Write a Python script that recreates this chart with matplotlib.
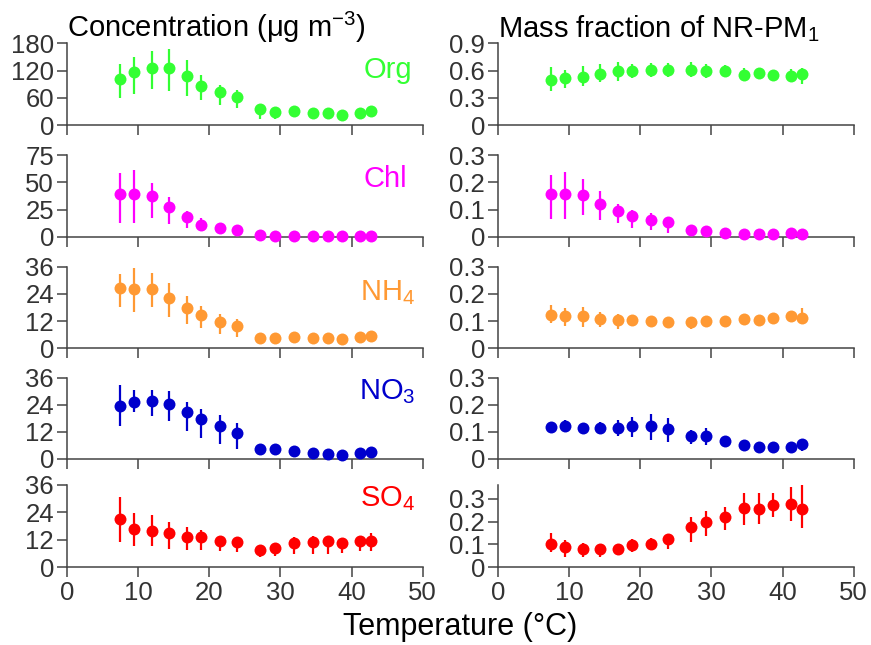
import matplotlib
matplotlib.use("Agg")
import matplotlib.pyplot as plt
import numpy as np

plt.rcParams['font.family'] = ['Liberation Sans', 'DejaVu Sans']
plt.rcParams['mathtext.fontset'] = 'custom'
plt.rcParams['mathtext.rm'] = 'Liberation Sans'
plt.rcParams['mathtext.it'] = 'Liberation Sans:italic'
plt.rcParams['mathtext.bf'] = 'Liberation Sans:bold'

# ---------------- data ----------------
temperature = [7.5, 9.5, 12.0, 14.3, 16.9, 18.9, 21.5, 23.9,
               27.2, 29.2, 31.9, 34.6, 36.7, 38.7, 41.2, 42.7]

species = ["Org", "Chl", "NH$_4$", "NO$_3$", "SO$_4$"]
colors = ["#33FF33", "#FF00FF", "#FF9933", "#0000CC", "#FF0000"]

# Concentration (ug m-3): mean, lower, upper
org_conc = [101.7, 117.8, 126.6, 126.6, 109.0, 85.6, 73.0, 62.0, 35.0, 30.0, 31.5, 26.3, 27.8, 23.4, 27.0, 30.7]
org_conc_lo = [60.7, 69.5, 79.0, 76.0, 65.0, 55.0, 45.0, 38.0, 14.6, 14.6, 17.6, 17.6, 18.0, 18.0, 19.0, 23.0]
org_conc_hi = [133.9, 150.0, 163.0, 166.8, 142.7, 111.0, 88.5, 76.8, 44.6, 39.5, 41.0, 35.0, 36.0, 29.0, 35.0, 37.0]

chl_conc = [39.0, 39.7, 37.2, 27.7, 18.1, 11.1, 7.7, 5.8, 1.5, 0.9, 0.6, 0.5, 0.5, 0.5, 0.6, 0.6]
chl_conc_lo = [12.3, 12.3, 17.5, 11.4, 7.7, 5.2, 4.0, 3.5, 0.5, 0.4, 0.3, 0.3, 0.3, 0.3, 0.3, 0.3]
chl_conc_hi = [58.4, 61.5, 49.2, 36.9, 23.7, 16.9, 11.4, 8.5, 2.5, 1.6, 1.0, 0.9, 0.9, 0.9, 1.0, 1.0]

nh4_conc = [26.4, 26.3, 26.3, 22.2, 17.8, 14.5, 11.6, 9.8, 4.7, 4.7, 4.8, 4.7, 4.6, 4.3, 5.1, 5.4]
nh4_conc_lo = [18.4, 16.0, 18.4, 14.0, 10.7, 9.1, 6.5, 5.1, 3.8, 3.8, 3.9, 3.8, 3.7, 3.5, 4.2, 4.5]
nh4_conc_hi = [33.0, 35.6, 33.3, 28.7, 23.1, 18.7, 15.1, 13.1, 5.5, 5.6, 5.7, 5.6, 5.5, 5.2, 6.0, 6.3]

no3_conc = [23.6, 25.2, 25.7, 24.2, 20.8, 17.6, 14.5, 11.4, 4.4, 4.4, 3.7, 2.7, 2.1, 1.8, 2.5, 3.1]
no3_conc_lo = [14.6, 20.8, 19.2, 16.8, 12.4, 9.4, 6.8, 4.3, 3.5, 3.2, 2.8, 1.9, 1.4, 1.2, 1.7, 2.2]
no3_conc_hi = [32.6, 30.5, 30.4, 30.1, 25.2, 22.1, 19.3, 15.8, 5.5, 6.0, 4.8, 3.6, 2.9, 2.5, 3.4, 4.1]

so4_conc = [21.1, 16.6, 16.0, 14.9, 13.4, 13.3, 11.7, 10.9, 7.7, 8.6, 10.5, 11.2, 11.4, 10.5, 11.5, 11.5]
so4_conc_lo = [11.2, 9.5, 9.5, 8.2, 7.6, 7.7, 7.3, 6.6, 4.4, 5.1, 5.7, 6.0, 5.7, 6.4, 7.1, 7.1]
so4_conc_hi = [30.6, 23.8, 22.9, 20.0, 17.8, 16.2, 13.7, 13.4, 9.8, 10.2, 13.1, 13.7, 13.7, 13.0, 13.7, 14.9]

# Mass fraction of NR-PM1: mean, lower, upper
org_frac = [0.494, 0.516, 0.531, 0.563, 0.600, 0.593, 0.607, 0.611, 0.611, 0.593, 0.596, 0.556, 0.574, 0.549, 0.538, 0.567]
org_frac_lo = [0.381, 0.413, 0.432, 0.476, 0.490, 0.523, 0.527, 0.534, 0.534, 0.523, 0.534, 0.498, 0.523, 0.498, 0.476, 0.450]
org_frac_hi = [0.644, 0.607, 0.651, 0.673, 0.695, 0.677, 0.680, 0.680, 0.695, 0.670, 0.659, 0.633, 0.633, 0.600, 0.615, 0.626]

chl_frac = [0.156, 0.156, 0.152, 0.120, 0.096, 0.076, 0.063, 0.053, 0.025, 0.021, 0.015, 0.009, 0.010, 0.009, 0.012, 0.011]
chl_frac_lo = [0.064, 0.064, 0.081, 0.061, 0.049, 0.032, 0.025, 0.015, 0.020, 0.016, 0.011, 0.006, 0.007, 0.006, 0.008, 0.008]
chl_frac_hi = [0.227, 0.237, 0.211, 0.168, 0.120, 0.098, 0.086, 0.074, 0.030, 0.026, 0.019, 0.012, 0.013, 0.012, 0.016, 0.014]

nh4_frac = [0.121, 0.118, 0.119, 0.109, 0.103, 0.105, 0.099, 0.098, 0.097, 0.100, 0.099, 0.107, 0.103, 0.113, 0.118, 0.110]
nh4_frac_lo = [0.092, 0.083, 0.080, 0.077, 0.070, 0.083, 0.083, 0.083, 0.072, 0.083, 0.080, 0.088, 0.086, 0.096, 0.098, 0.089]
nh4_frac_hi = [0.158, 0.149, 0.151, 0.133, 0.126, 0.122, 0.114, 0.109, 0.110, 0.116, 0.114, 0.122, 0.119, 0.125, 0.136, 0.147]

no3_frac = [0.118, 0.122, 0.113, 0.116, 0.113, 0.122, 0.122, 0.109, 0.084, 0.084, 0.065, 0.050, 0.043, 0.043, 0.043, 0.055]
no3_frac_lo = [0.103, 0.101, 0.095, 0.097, 0.086, 0.082, 0.070, 0.061, 0.057, 0.052, 0.045, 0.033, 0.025, 0.033, 0.025, 0.031]
no3_frac_hi = [0.134, 0.144, 0.134, 0.136, 0.144, 0.156, 0.166, 0.150, 0.107, 0.113, 0.082, 0.066, 0.058, 0.055, 0.059, 0.070]

so4_frac = [0.104, 0.087, 0.078, 0.078, 0.082, 0.099, 0.104, 0.124, 0.175, 0.196, 0.219, 0.259, 0.256, 0.274, 0.278, 0.253]
so4_frac_lo = [0.065, 0.047, 0.044, 0.047, 0.057, 0.066, 0.074, 0.081, 0.112, 0.135, 0.162, 0.185, 0.191, 0.219, 0.203, 0.174]
so4_frac_hi = [0.150, 0.121, 0.106, 0.103, 0.103, 0.124, 0.128, 0.143, 0.219, 0.246, 0.265, 0.326, 0.326, 0.326, 0.353, 0.359]

conc_ticks = [[0, 60, 120, 180], [0, 25, 50, 75], [0, 12, 24, 36], [0, 12, 24, 36], [0, 12, 24, 36]]
frac_ticks = [[0, 0.3, 0.6, 0.9], [0, 0.1, 0.2, 0.3], [0, 0.1, 0.2, 0.3], [0, 0.1, 0.2, 0.3], [0, 0.1, 0.2, 0.3]]
frac_ylim_top = [0.9, 0.3, 0.3, 0.3, 0.36]
x_ticks = [0, 10, 20, 30, 40, 50]

conc_sets = [(org_conc, org_conc_lo, org_conc_hi), (chl_conc, chl_conc_lo, chl_conc_hi),
             (nh4_conc, nh4_conc_lo, nh4_conc_hi), (no3_conc, no3_conc_lo, no3_conc_hi),
             (so4_conc, so4_conc_lo, so4_conc_hi)]
frac_sets = [(org_frac, org_frac_lo, org_frac_hi), (chl_frac, chl_frac_lo, chl_frac_hi),
             (nh4_frac, nh4_frac_lo, nh4_frac_hi), (no3_frac, no3_frac_lo, no3_frac_hi),
             (so4_frac, so4_frac_lo, so4_frac_hi)]

# ---------------- layout ----------------
W, H = 871, 645
fig = plt.figure(figsize=(W / 100, H / 100), dpi=100)

left_x0 = 66.7 / W
right_x0 = 497.7 / W
ax_w = 356.0 / W
tops_px = [43.3, 155.3, 266.7, 377.7, 485.0]
bots_px = [125.3, 236.7, 348.3, 459.0, 567.3]

label_pos = [(0.970, 0.58), (0.955, 0.61), (0.978, 0.59), (0.981, 0.73), (0.978, 0.74)]

spine_col = "#444444"
tick_col = "#333333"
tick_fs = 18.5


def fmt(v):
    if v == 0:
        return "0"
    if float(v).is_integer():
        return str(int(v))
    return f"{v:g}"


def style_axis(ax, yticks, ylim_top, bottom):
    for s in ["top", "right"]:
        ax.spines[s].set_visible(False)
    for s in ["left", "bottom"]:
        ax.spines[s].set_color(spine_col)
        ax.spines[s].set_linewidth(1.1)
    ax.set_xlim(0, 50)
    ax.set_ylim(0, ylim_top)
    ax.set_xticks(x_ticks)
    ax.set_yticks(yticks)
    ax.set_yticklabels([fmt(v) for v in yticks])
    ax.tick_params(axis="both", direction="out", length=7.2, width=1.1,
                   color=spine_col, labelcolor=tick_col, labelsize=tick_fs)
    ax.tick_params(axis="y", pad=2.0)
    ax.tick_params(axis="x", pad=3.0)
    if bottom:
        ax.set_xticklabels([str(v) for v in x_ticks])
    else:
        ax.set_xticklabels([])
    ax.set_facecolor("none")


def draw(ax, vals, col):
    mean, lo, hi = vals
    mean = np.array(mean)
    yerr = np.vstack([mean - np.array(lo), np.array(hi) - mean])
    eb = ax.errorbar(temperature, mean, yerr=yerr, fmt="none", ecolor=col,
                     elinewidth=1.6, capsize=0, zorder=3)
    for c in eb.get_children():
        c.set_clip_on(False)
    ax.plot(temperature, mean, "o", color=col, markersize=8.6,
            markeredgewidth=0, zorder=4, clip_on=False)


for i in range(5):
    b = 1 - bots_px[i] / H
    h = (bots_px[i] - tops_px[i]) / H
    axl = fig.add_axes([left_x0, b, ax_w, h])
    axr = fig.add_axes([right_x0, b, ax_w, h])
    style_axis(axl, conc_ticks[i], conc_ticks[i][-1], i == 4)
    style_axis(axr, frac_ticks[i], frac_ylim_top[i], i == 4)
    draw(axl, conc_sets[i], colors[i])
    draw(axr, frac_sets[i], colors[i])
    lx, ly = label_pos[i]
    axl.text(lx, ly, species[i], transform=axl.transAxes, ha="right",
             va="baseline", color=colors[i], fontsize=21)

fig.text(left_x0, 1 - 36.7 / H, "Concentration (\u03bcg m$^{\u22123}$)",
         ha="left", va="baseline", fontsize=21, color="black")
fig.text(right_x0, 1 - 36.7 / H, "Mass fraction of NR-PM$_1$",
         ha="left", va="baseline", fontsize=21, color="black")
fig.text((left_x0 + right_x0 + ax_w) / 2, 1 - 635 / H, "Temperature (\u00b0C)",
         ha="center", va="baseline", fontsize=22, color="black")

fig.savefig("out.png", dpi=100)
